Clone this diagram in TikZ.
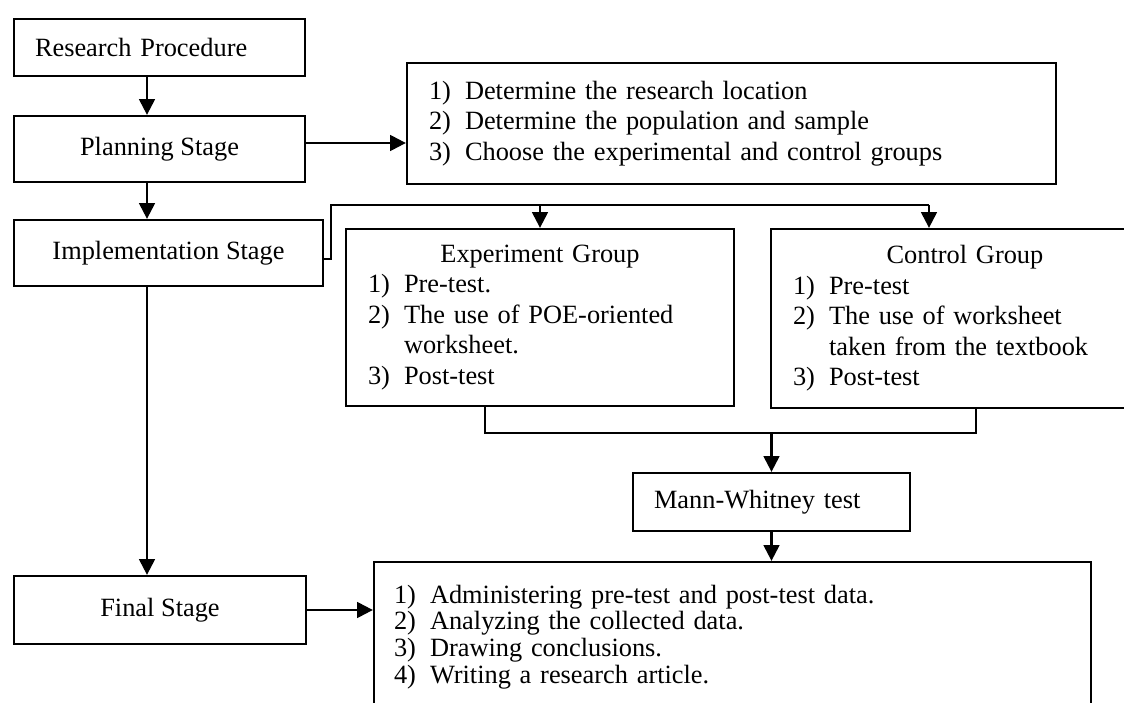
\documentclass[tikz,border=0pt]{standalone}
\usepackage{fontspec}
\setmainfont{Liberation Serif}
\usepackage{tikz}
\usetikzlibrary{arrows.meta}

\newcommand{\itm}[2]{\makebox[20.5pt][l]{#1}#2}

\begin{document}
\begin{tikzpicture}
[mybox/.style={rectangle,draw=black,line width=1.3pt,font=\fontsize{15}{17.4}\selectfont},
leftbox/.style={mybox,align=left,inner xsep=4.2mm},
listbox/.style={mybox,align=left,inner xsep=4.4mm},
arr/.style={-{Triangle[length=9pt,width=9pt]},line width=1.3pt},
]
\clip (0,0) rectangle (22.48,-14.06);

\coordinate (spine) at (2.94,0);
\coordinate (split) at (6.62,-4.1);
\coordinate (splitend) at (18.58,-4.1);
\coordinate (merge) at (15.43,-8.66);

\node [leftbox,text width=49.8mm,minimum height=11.4mm] (A) at (3.19,-0.95){Research Procedure};
\node [mybox,minimum width=58.2mm,minimum height=13.2mm] (B) at (3.19,-2.98){Planning Stage};
\node [mybox,minimum width=61.8mm,minimum height=13.2mm] (C) at (3.37,-5.06){Implementation Stage};
\node [mybox,minimum width=58.4mm,minimum height=13.6mm] (D) at (3.2,-12.2){Final Stage};
\node [listbox,text width=121mm,minimum height=24.2mm] (E) at (14.63,-2.47){\itm{1)}{Determine the research location}\\ \itm{2)}{Determine the population and sample}\\ \itm{3)}{Choose the experimental and control groups}};
\node [listbox,text width=68.8mm,minimum height=35.4mm] (F) at (10.8,-6.35){\null\hfill Experiment Group\hfill\null\\ \itm{1)}{Pre-test.}\\ \itm{2)}{The use of POE-oriented}\\ \itm{}{worksheet.}\\ \itm{3)}{Post-test}};
\node [listbox,text width=68.8mm,minimum height=35.8mm] (G) at (19.3,-6.37){\null\hfill Control Group\hfill\null\\ \itm{1)}{Pre-test}\\ \itm{2)}{The use of worksheet}\\ \itm{}{taken from the textbook}\\ \itm{3)}{Post-test}};
\node [leftbox,text width=47mm,minimum height=11.6mm] (H) at (15.43,-10.04){Mann-Whitney test};
\node [listbox,inner xsep=4mm,text width=135.4mm,minimum height=30mm,font=\fontsize{15}{15.2}\selectfont] (I) at (14.65,-12.74){\itm{1)}{Administering pre-test and post-test data.}\\ \itm{2)}{Analyzing the collected data.}\\ \itm{3)}{Drawing conclusions.}\\ \itm{4)}{Writing a research article.}};

\draw[arr] (A.south -| spine) -- (B.north -| spine);
\draw[arr] (B.south -| spine) -- (C.north -| spine);
\draw[arr] (C.south -| spine) -- (D.north -| spine);
\draw[arr] ([yshift=1.2mm]B.east) -- ([yshift=1.2mm]B.east -| E.west);

\draw[line width=1.3pt] ([yshift=-1.2mm]C.east) -| (split) -- (splitend);
\draw[arr] (split -| F.north) -- (F.north);
\draw[arr] (splitend) -- (splitend |- G.north);

\draw[line width=1.3pt] ([xshift=-11mm]F.south) |- (merge) -| ([xshift=2.2mm]G.south);
\draw[arr] (merge) -- (H.north);
\draw[arr] (H.south) -- (H.south |- I.north);
\draw[arr] (D.east) -- (D.east -| I.west);
\end{tikzpicture}
\end{document}
